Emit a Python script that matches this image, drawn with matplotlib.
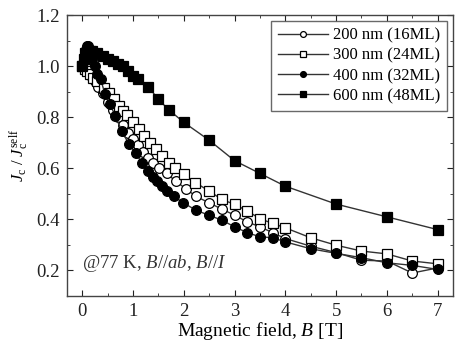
import matplotlib
matplotlib.use("Agg")
import matplotlib.pyplot as plt
from matplotlib.ticker import MultipleLocator

plt.rcParams['font.family'] = 'Liberation Serif'
plt.rcParams['mathtext.fontset'] = 'custom'
plt.rcParams['mathtext.rm'] = 'Liberation Serif'
plt.rcParams['mathtext.it'] = 'Liberation Serif:italic'

# data
x200 = [0, 0.04, 0.08, 0.12, 0.18, 0.25, 0.32, 0.4, 0.5, 0.6, 0.7, 0.8, 0.9, 1.0, 1.1, 1.2, 1.3, 1.4,
        1.51, 1.66, 1.84, 2.04, 2.24, 2.5, 2.75, 3.0, 3.25, 3.5, 3.75, 4.0, 4.5, 5.0, 5.5, 6.0, 6.5, 7.0]
y200 = [1.0, 1.0, 0.99, 0.98, 0.96, 0.94, 0.92, 0.895, 0.86, 0.83, 0.80, 0.77, 0.74, 0.715, 0.69, 0.665, 0.64, 0.62,
        0.60, 0.58, 0.55, 0.52, 0.49, 0.465, 0.44, 0.417, 0.39, 0.371, 0.348, 0.325, 0.295, 0.27, 0.24, 0.237, 0.19, 0.21]

x300 = [0, 0.05, 0.1, 0.15, 0.22, 0.3, 0.42, 0.52, 0.62, 0.72, 0.8, 0.88, 1.0, 1.11, 1.22, 1.34, 1.45, 1.57,
        1.7, 1.82, 2.0, 2.23, 2.5, 2.75, 3.0, 3.25, 3.5, 3.75, 4.0, 4.5, 5.0, 5.5, 6.0, 6.5, 7.0]
y300 = [1.0, 0.99, 0.98, 0.97, 0.955, 0.94, 0.916, 0.895, 0.87, 0.845, 0.825, 0.81, 0.78, 0.753, 0.727, 0.70, 0.675, 0.648,
        0.62, 0.6, 0.576, 0.544, 0.511, 0.478, 0.459, 0.433, 0.403, 0.384, 0.367, 0.328, 0.299, 0.276, 0.265, 0.237, 0.226]

x400 = [0, 0.03, 0.06, 0.09, 0.12, 0.16, 0.2, 0.25, 0.3, 0.36, 0.45, 0.55, 0.65, 0.78, 0.92, 1.05, 1.18, 1.29,
        1.4, 1.48, 1.57, 1.67, 1.8, 1.99, 2.24, 2.5, 2.75, 3.0, 3.25, 3.5, 3.75, 4.0, 4.5, 5.0, 5.5, 6.0, 6.5, 7.0]
y400 = [1.0, 1.03, 1.06, 1.08, 1.08, 1.06, 1.03, 1.0, 0.97, 0.95, 0.89, 0.85, 0.805, 0.746, 0.694, 0.66, 0.62, 0.589,
        0.565, 0.55, 0.53, 0.51, 0.49, 0.465, 0.436, 0.416, 0.397, 0.371, 0.348, 0.332, 0.328, 0.312, 0.285, 0.267, 0.25,
        0.23, 0.22, 0.204]

x600 = [0, 0.03, 0.06, 0.1, 0.15, 0.2, 0.3, 0.4, 0.5, 0.6, 0.7, 0.8, 0.9, 1.0, 1.1, 1.3, 1.5, 1.7, 2.0, 2.5,
        3.0, 3.5, 4.0, 5.0, 6.0, 7.0]
y600 = [1.0, 1.03, 1.05, 1.06, 1.06, 1.06, 1.05, 1.04, 1.03, 1.02, 1.01, 1.0, 0.98, 0.96, 0.95, 0.92, 0.87, 0.83, 0.78, 0.71,
        0.63, 0.58, 0.53, 0.46, 0.41, 0.36]

labels = ['200 nm (16ML)', '300 nm (24ML)', '400 nm (32ML)', '600 nm (48ML)']

fig = plt.figure(figsize=(4.57, 3.43), dpi=100)
ax = fig.add_axes([0.1466, 0.137, 0.8444, 0.819])

lc = '#333333'
kw = dict(color=lc, lw=1.0, markersize=7, markeredgecolor='black', markeredgewidth=0.9)
ax.plot(x200, y200, marker='o', markerfacecolor='white', label=labels[0], **kw)
ax.plot(x300, y300, marker='s', markerfacecolor='white', label=labels[1], **kw)
ax.plot(x400, y400, marker='o', markerfacecolor='black', label=labels[2], **kw)
ax.plot(x600, y600, marker='s', markerfacecolor='black', label=labels[3], **kw)

ax.set_xlim(-0.3, 7.3)
ax.set_ylim(0.1, 1.2)
ax.xaxis.set_major_locator(MultipleLocator(1))
ax.xaxis.set_minor_locator(MultipleLocator(0.5))
ax.yaxis.set_major_locator(MultipleLocator(0.2))
ax.yaxis.set_minor_locator(MultipleLocator(0.1))
ax.yaxis.set_major_formatter(matplotlib.ticker.FormatStrFormatter('%.1f'))
ax.tick_params(which='both', direction='in', top=True, right=True, labelsize=13.5, colors='#222222')
ax.tick_params(which='major', length=4, pad=5)
ax.tick_params(which='minor', length=2.5)
for s in ax.spines.values():
    s.set_color('#444444')
    s.set_linewidth(1.0)

ax.set_xlabel('Magnetic field, $B$ [T]', fontsize=14, labelpad=0)
ax.set_ylabel(r'$J_{\rm c}$ / $J_{\rm c}^{\rm self}$', fontsize=12, labelpad=4)

ax.text(0.0, 0.21, '@77 K, $B//ab$, $B//I$', fontsize=13.5, color='#333333')

leg = ax.legend(loc='upper right', fontsize=12, frameon=True, fancybox=False,
                edgecolor='#444444', handlelength=3.0, handletextpad=0.3, markerscale=0.6,
                borderaxespad=0.35, labelspacing=0.25, borderpad=0.4)
leg.get_frame().set_linewidth(1.0)

fig.savefig('out.png', dpi=100)
